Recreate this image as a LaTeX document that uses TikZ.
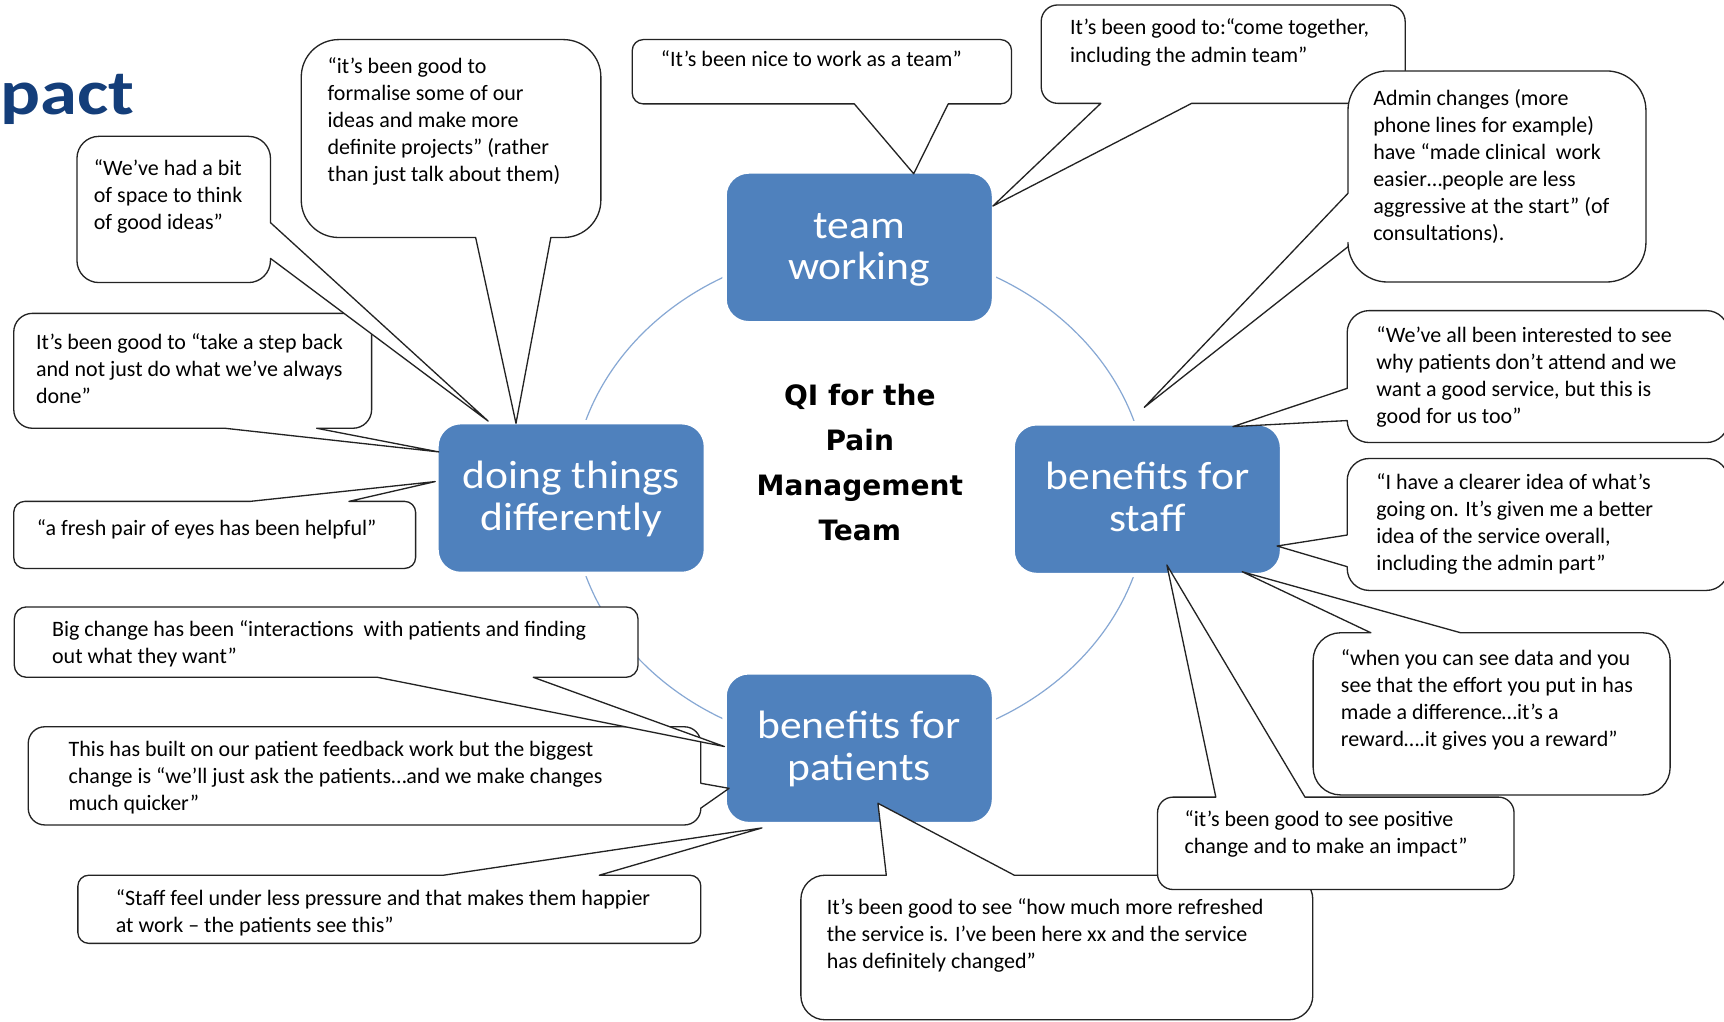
\documentclass[tikz,border=0pt]{standalone}
\usepackage{fontspec}
\setmainfont{Carlito}
\newfontfamily\labelfont{Carlito}[FakeStretch=1.1]
\newfontfamily\titlefont{Carlito}[FakeStretch=1.17]
\newfontfamily\hubfont{DejaVu Sans}
\definecolor{boxblue}{RGB}{79,129,189}
\definecolor{ringblue}{RGB}{135,168,212}
\definecolor{titleblue}{RGB}{20,62,122}
\definecolor{inkgrey}{RGB}{35,35,35}

% Speech bubble: rounded rectangle (#1,#2)-(#3,#4), corner radius #5,
% with optional wedge segments inserted on the top (#6), right (#7),
% bottom (#8) and left (#9) edges, walking clockwise.
\newcommand{\qbubble}[9]{%
  \draw[bubble] (#1+#5,#2) #6 -- (#3-#5,#2)
    arc[start angle=270,end angle=360,radius=#5] #7 -- (#3,#4-#5)
    arc[start angle=0,end angle=90,radius=#5] #8 -- (#1+#5,#4)
    arc[start angle=90,end angle=180,radius=#5] #9 -- (#1,#2+#5)
    arc[start angle=180,end angle=270,radius=#5] -- cycle;}
% struts that fix the vertical placement of the two-line theme labels
\newcommand{\themetop}{\rule{0pt}{29pt}}
\newcommand{\themebot}{\rule[-8pt]{0pt}{8pt}}

\begin{document}
\begin{tikzpicture}[x=1pt,y=-1pt,
  bubble/.style={draw=inkgrey,fill=white,line width=1.2pt,line join=round},
  quote/.style={anchor=north west,inner sep=0pt,align=left,text=black,yshift=-3pt,
    font=\fontsize{20}{24.6}\selectfont,execute at begin node={\rule{0pt}{15.5pt}}},
  theme/.style={rectangle,rounded corners=22pt,fill=boxblue,draw=white,line width=4pt,
    minimum width=245pt,minimum height=138pt,text=white,align=center,
    font=\labelfont\fontsize{36}{38}\selectfont},
  hub/.style={align=center,inner sep=0pt,font=\hubfont\bfseries\fontsize{25.5}{41}\selectfont},
  ring/.style={draw=ringblue,line width=1.1pt}]

\fill[white] (0,0) rectangle (1568,929);
\useasboundingbox (0,0) rectangle (1568,929);

% heading fragment
\node[anchor=base west,inner sep=0pt,text=titleblue,
  font=\titlefont\bfseries\fontsize{58}{58}\selectfont] (pact) at (0,103.7) {pact};

% cycle ring and the four themes
\draw[ring] (782,453) ellipse [x radius=262, y radius=228];
\node[theme] (tw)  at (781.5,225)   {\themetop team\\working\themebot};
\node[theme] (dtd) at (519.5,453)   {\themetop doing things\\differently\themebot};
\node[theme] (bfs) at (1043.5,454)  {\themetop benefits for\\staff\themebot};
\node[theme] (bfp) at (781.5,680.5) {\themetop benefits for\\patients\themebot};
\node[hub] (hub) at (782,420.5) {QI for the\\Pain\\Management\\Team};

% quotes around "doing things differently"
\qbubble{12.5}{285}{338}{389.5}{17}{}{}{-- (288,389.5) -- (399,411) -- (204.6,389.5)}{}
\node[quote] (q3) at (32.6,299.8) {It’s been good to “take a step back\\and not just do what we’ve always\\done”};
\qbubble{70}{124}{246}{257}{20}{}{-- (246,202.5) -- (444,383) -- (246,235)}{}{}
\node[quote] (q1) at (85.2,142.1) {“We’ve had a bit\\of space to think\\of good ideas”};
\qbubble{274}{36}{546.5}{216}{34}{}{}{-- (501,216) -- (469.3,385) -- (432.6,216)}{}
\node[quote] (q2) at (297.8,48.8) {“it’s been good to\\formalise some of our\\ideas and make more\\definite projects” (rather\\than just talk about them)};
\qbubble{12.5}{456}{378}{517}{10}{-- (227.6,456) -- (395.8,438) -- (317.4,456)}{}{}{}
\node[quote] (q4) at (33.4,468.5) {“a fresh pair of eyes has been helpful”};

% quotes around "team working"
\qbubble{575}{36}{920}{94.5}{10}{}{}{-- (862.4,94.5) -- (831,158) -- (777,94.5)}{}
\node[quote] (q5) at (600.9,42.1) {“It’s been nice to work as a team”};
\qbubble{947}{4.5}{1278}{94}{15}{}{}{-- (1083.8,94) -- (903,187.4) -- (1001.2,94)}{}
\node[quote] (q6) at (973,14.2) {It’s been good to:“come together,\\including the admin team”};

% quotes around "benefits for staff"
\qbubble{1226}{64.5}{1497}{256.5}{36}{}{}{}{-- (1226,224.4) -- (1040.7,370.5) -- (1226,175.8)}
\node[quote] (q7) at (1248.8,78.1) {Admin changes (more\\phone lines for example)\\have “made clinical~ work\\easier…people are less\\aggressive at the start” (of\\consultations).};
\qbubble{1225.3}{282.5}{1572}{402.5}{20}{}{}{}{-- (1225.3,382.5) -- (1121.4,388) -- (1225.3,353.2)}
\node[quote] (q8) at (1251.7,293.7) {“We’ve all been interested to see\\why patients don’t attend and we\\want a good service, but this is\\good for us too”};
\qbubble{1225.3}{417}{1572}{537}{20}{}{}{}{-- (1225.3,515.4) -- (1161.5,496.6) -- (1225.3,486.6)}
\node[quote] (q9) at (1251.7,427.7) {“I have a clearer idea of what’s\\going on. It’s given me a better\\idea of the service overall,\\including the admin part”};
\qbubble{1194.3}{575.5}{1519}{723}{25}{-- (1246.8,575.5) -- (1129.8,520) -- (1328.5,575.5)}{}{}{}
\node[quote] (q10) at (1219.4,587.8) {“when you can see data and you\\see that the effort you put in has\\made a difference…it’s a\\reward….it gives you a reward”};
\qbubble{728.4}{796}{1194}{927.5}{22}{-- (806.1,796) -- (798.5,730.6) -- (922.5,796)}{}{}{}
\node[quote] (q12) at (751.8,813.7) {It’s been good to see “how much more refreshed\\the service is. I’ve been here xx and the service\\has definitely changed”};
\qbubble{1052.8}{725}{1377}{809}{14}{-- (1105.8,725) -- (1061.3,513.9) -- (1186.9,725)}{}{}{}
\node[quote] (q11) at (1077.2,734.3) {“it’s been good to see positive\\change and to make an impact”};

% quotes around "benefits for patients"
\qbubble{25.7}{661}{637.4}{750.3}{15}{}{-- (637.4,712.4) -- (663.1,717) -- (637.4,735)}{}{}
\node[quote] (q14) at (62.2,670.7) {This has built on our patient feedback work but the biggest\\change is “we’ll just ask the patients…and we make changes\\much quicker”};
\qbubble{13}{552}{580.3}{616}{11}{}{}{-- (485,616) -- (658.9,679) -- (343.4,616)}{}
\node[quote] (q13) at (47.2,561.5) {Big change has been “interactions~ with patients and finding\\out what they want”};
\qbubble{70.8}{796}{637.4}{858}{10}{-- (403.5,796) -- (693,753) -- (545.1,796)}{}{}{}
\node[quote] (q15) at (105.2,805.6) {“Staff feel under less pressure and that makes them happier\\at work – the patients see this”};
\end{tikzpicture}
\end{document}
